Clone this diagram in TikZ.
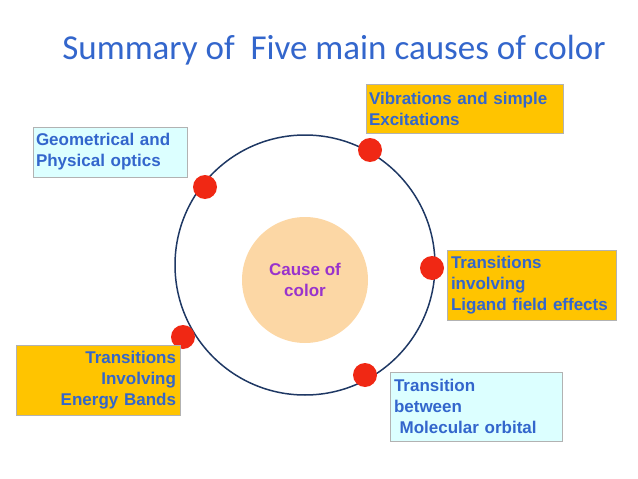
\documentclass[tikz,border=0pt]{standalone}
\usepackage{fontspec}
\setmainfont{Liberation Sans}
\newfontfamily\titlefont{Carlito}
\definecolor{txtblue}{RGB}{51,102,204}
\definecolor{ringblue}{RGB}{31,56,100}
\definecolor{boxyellow}{RGB}{255,196,0}
\definecolor{boxcyan}{RGB}{220,255,255}
\definecolor{peach}{RGB}{252,215,165}
\definecolor{dotred}{RGB}{240,40,20}
\definecolor{causepurple}{RGB}{153,51,204}
\tikzset{
	causebox/.style={draw=gray!60,text=txtblue,font=\bfseries\fontsize{17}{21}\selectfont,inner sep=3pt},
	warmbox/.style={causebox,fill=boxyellow,align=left},
	coolbox/.style={causebox,fill=boxcyan,align=left},
	dot/.style={circle,fill=dotred,minimum size=24pt,inner sep=0pt}
}
\begin{document}
\begin{tikzpicture}[x=1pt,y=-1pt]
	\useasboundingbox (0,0) rectangle (638,479);

	\node[text=txtblue,font=\titlefont\fontsize{35}{40}\selectfont] (title) at (334,50) {Summary of\ \ Five main causes of color};

	\draw[ringblue,line width=1.5pt] (305,265) circle (130);
	\node[circle,fill=peach,minimum size=126pt,inner sep=0pt,text=causepurple,font=\bfseries\fontsize{17}{21}\selectfont,align=center] (cause) at (305,280) {Cause of\\color};

	\node[dot] (d1) at (205,187) {};
	\node[dot] (d2) at (370,150) {};
	\node[dot] (d3) at (432,268) {};
	\node[dot] (d4) at (183,337) {};
	\node[dot] (d5) at (365,375) {};

	\node[coolbox,minimum width=154pt,minimum height=50pt,text width=148pt] (optics) at (110,152) {Geometrical and\\Physical optics};
	\node[warmbox,minimum width=197pt,minimum height=49pt,text width=191pt] (vibr) at (464.5,108.5) {Vibrations and simple\\Excitations};
	\node[warmbox,minimum width=169pt,minimum height=70pt,text width=161pt] (ligand) at (531.5,285) {Transitions\\involving\\Ligand field effects};
	\node[warmbox,align=right,minimum width=164pt,minimum height=70pt,text width=156pt] (bands) at (98,380) {Transitions\\Involving\\Energy Bands};
	\node[coolbox,minimum width=172pt,minimum height=69pt,text width=164pt] (orbital) at (476,406.5) {Transition\\between\\\ Molecular orbital};
\end{tikzpicture}
\end{document}
